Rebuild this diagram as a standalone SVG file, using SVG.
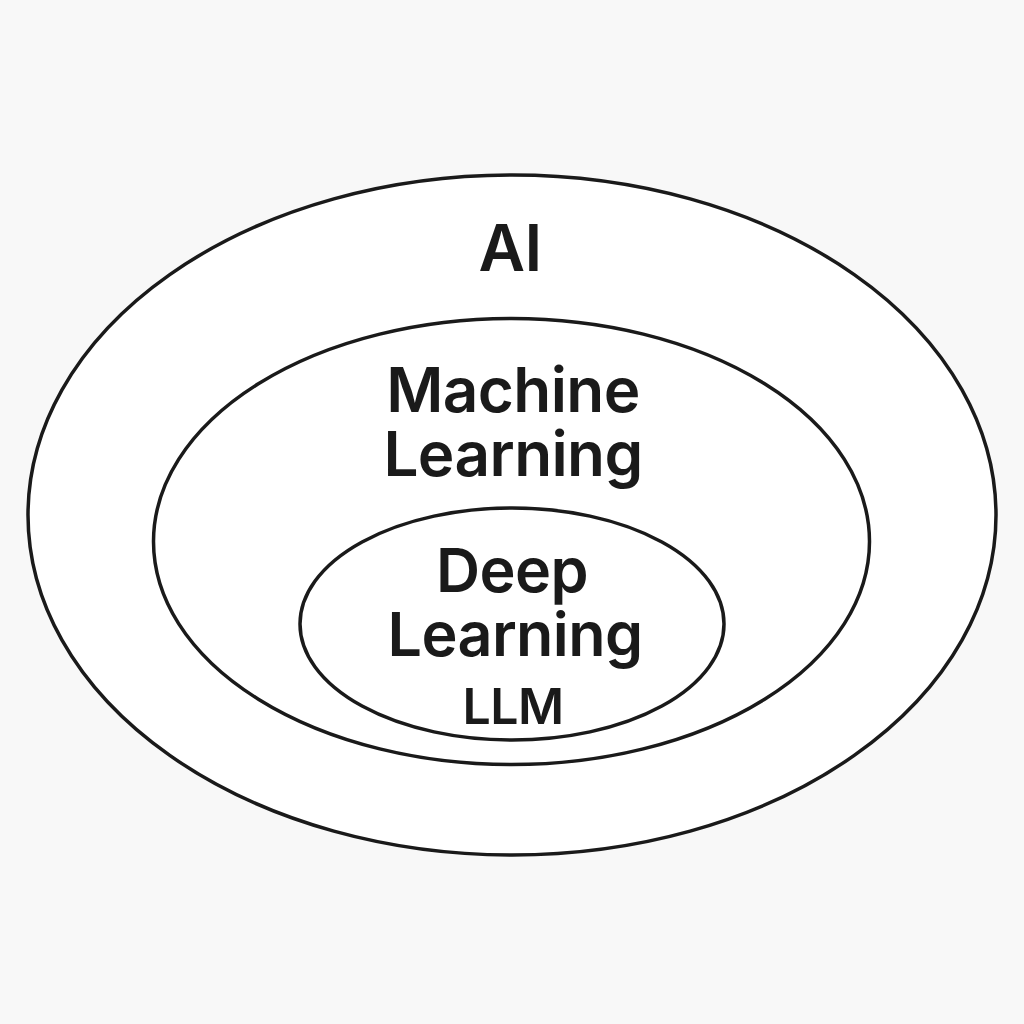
<svg xmlns="http://www.w3.org/2000/svg" width="1024" height="1024" viewBox="0 0 1024 1024">
<style>
.e{fill:#ffffff;stroke:#1a1a1a;stroke-width:3.5}
.t{font-family:Inter,"Liberation Sans",sans-serif;font-weight:600;fill:#1a1a1a;text-anchor:middle;letter-spacing:-0.6px}
</style>
<rect width="1024" height="1024" fill="#f8f8f8"/>
<g id="ai">
<ellipse class="e" cx="512" cy="515" rx="484" ry="340"/>
<text class="t" x="510" y="271" font-size="64">AI</text>
</g>
<g id="ml">
<ellipse class="e" cx="511.5" cy="541.5" rx="358" ry="223"/>
<text class="t" x="513" y="412" font-size="62">Machine</text>
<text class="t" x="513" y="476" font-size="62">Learning</text>
</g>
<g id="dl">
<ellipse class="e" cx="512" cy="624" rx="212" ry="116"/>
<text class="t" x="512" y="592" font-size="61">Deep</text>
<text class="t" x="515" y="656" font-size="61">Learning</text>
<text class="t" x="513" y="724" font-size="50">LLM</text>
</g>
<g id="connectors"/>
</svg>
